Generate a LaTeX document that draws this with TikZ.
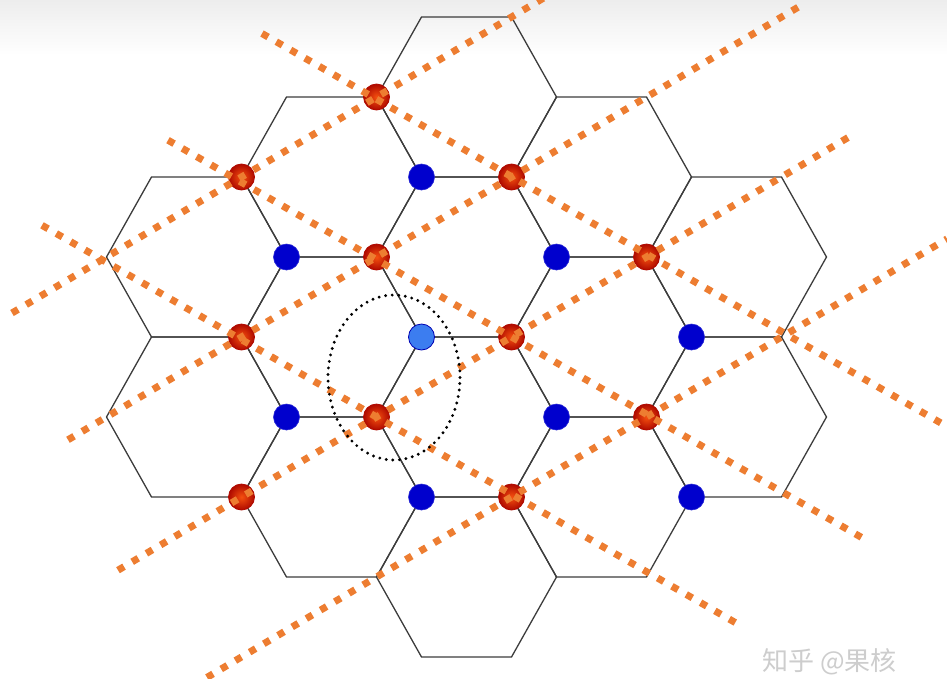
\documentclass[tikz,border=0pt]{standalone}
\usepackage{fontspec}
\newfontfamily\cjk{Noto Sans CJK SC}
\definecolor{hexgray}{RGB}{60,60,60}
\definecolor{lineorange}{RGB}{237,125,49}
\definecolor{reddark}{RGB}{175,10,0}
\definecolor{redin}{RGB}{245,80,15}
\definecolor{blueD}{RGB}{0,0,205}
\definecolor{blueL}{RGB}{60,125,240}
\definecolor{wmgray}{RGB}{205,205,205}
\tikzset{
  hexline/.style={draw=hexgray,line width=1.3pt,line join=miter},
  orangedots/.style={draw=lineorange,line width=7pt,dash pattern=on 7pt off 9.5pt},
  reddot/.style={circle,minimum size=26pt,inner sep=0pt,draw=reddark,line width=0.8pt,inner color=redin,outer color=reddark},
  bluedot/.style={circle,minimum size=26pt,inner sep=0pt,fill=blueD,draw=blueD!85!white,line width=0.6pt},
  lightdot/.style={circle,minimum size=26pt,inner sep=0pt,fill=blueL,draw=blue!70!black,line width=0.8pt},
  ringdots/.style={draw=black,line width=3.2pt,dash pattern=on 0pt off 6.6pt,line cap=round}
}
\begin{document}
\begin{tikzpicture}[x=1pt,y=-1pt]
\useasboundingbox (0,0) rectangle (947,678);
\clip (0,0) rectangle (947,678);
\fill[white] (0,0) rectangle (947,678);
\shade[top color=black!7,bottom color=white] (0,0) rectangle (947,55);
% honeycomb
\foreach \cx/\cy in {466.5/97,466.5/257,466.5/417,466.5/577,
                     331.5/177,331.5/337,331.5/497,
                     601.5/177,601.5/337,601.5/497,
                     196.5/257,196.5/417,
                     736.5/257,736.5/417}{
  \draw[hexline,shift={(\cx,\cy)}] (-45,-80) -- (45,-80) -- (90,0) -- (45,80) -- (-45,80) -- (-90,0) -- cycle;
}
% red sites
\node[reddot] (r1) at (376.5,97) {};
\node[reddot] (r2) at (241.5,177) {};
\node[reddot] (r3) at (511.5,177) {};
\node[reddot] (r4) at (376.5,257) {};
\node[reddot] (r5) at (646.5,257) {};
\node[reddot] (r6) at (241.5,337) {};
\node[reddot] (r7) at (511.5,337) {};
\node[reddot] (r8) at (376.5,417) {};
\node[reddot] (r9) at (646.5,417) {};
\node[reddot] (r10) at (241.5,497) {};
\node[reddot] (r11) at (511.5,497) {};
% blue sites
\node[bluedot] (b1) at (421.5,177) {};
\node[bluedot] (b2) at (286.5,257) {};
\node[bluedot] (b3) at (556.5,257) {};
\node[lightdot] (b4) at (421.5,337) {};
\node[bluedot] (b5) at (691.5,337) {};
\node[bluedot] (b6) at (286.5,417) {};
\node[bluedot] (b7) at (556.5,417) {};
\node[bluedot] (b8) at (421.5,497) {};
\node[bluedot] (b9) at (691.5,497) {};
% dotted orange lines (descending)
\draw[orangedots] (262,33.5) -- (947,426.5);
\draw[orangedots] (168,140.2) -- (866,540);
\draw[orangedots] (42,225.3) -- (742,626.4);
% dotted orange lines (ascending)
\draw[orangedots] (12,313) -- (548,-4.6);
\draw[orangedots] (68,439.8) -- (803,4.3);
\draw[orangedots] (118,570.2) -- (852,135.2);
\draw[orangedots] (207,677.4) -- (947,238.9);
% dotted ring
\draw[ringdots] (394,377.5) ellipse [x radius=66pt, y radius=82.5pt];
% watermark
\node[anchor=base west,text=wmgray,inner sep=0pt,font=\cjk\fontsize{26}{26}\selectfont] (wm) at (762,670) {知乎 @果核};
\end{tikzpicture}
\end{document}
